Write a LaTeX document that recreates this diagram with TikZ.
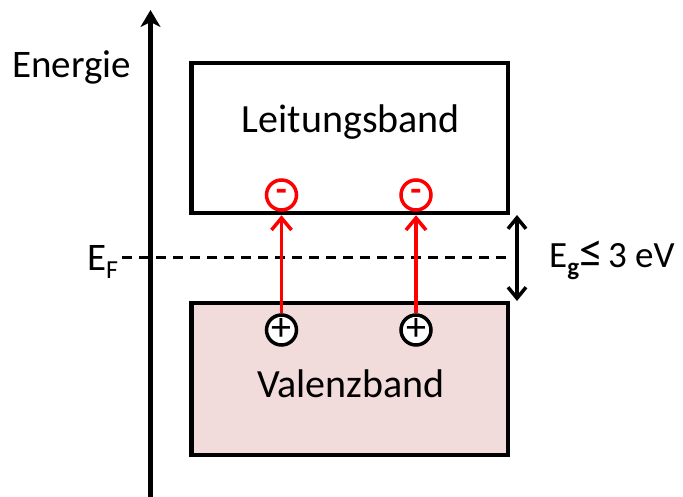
\documentclass[tikz,border=0pt]{standalone}
\usepackage{fontspec}
\setmainfont{Carlito}
\usetikzlibrary{arrows.meta}
\definecolor{vbfill}{HTML}{F2DCDB}
\definecolor{elred}{HTML}{FF0000}
\begin{document}
\begin{tikzpicture}[x=1pt,y=-1pt,
  band/.style={draw=black,line width=4.5pt,inner sep=0pt,minimum width=316.5pt},
  bigtext/.style={font=\fontsize{40}{44}\selectfont,inner sep=0pt,anchor=base},
  lbltext/.style={font=\fontsize{39}{44}\selectfont,inner sep=0pt,anchor=base west},
  minusc/.style={circle,draw=elred,line width=3.5pt,fill=white,minimum size=30pt,inner sep=0pt,text=elred,font=\fontsize{36}{36}\selectfont\bfseries},
  plusc/.style={circle,draw=black,line width=3.5pt,fill=white,minimum size=30pt,inner sep=0pt,font=\fontsize{40}{40}\selectfont},
  redarr/.style={draw=elred,line width=3.5pt,-{Straight Barb[length=12pt,width=20pt]}},
  dblarr/.style={draw=black,line width=3.5pt,{Straight Barb[length=11pt,width=18pt]}-{Straight Barb[length=11pt,width=18pt]}},
  axisarr/.style={draw=black,line width=4.5pt,-{Stealth[length=17pt,width=20pt,inset=5pt]}},
  fermi/.style={draw=black,line width=3pt,dash pattern=on 10pt off 7pt}
]
\useasboundingbox (0,0) rectangle (683,497);
% axis
\coordinate (axb) at (150.5,497);
\coordinate (axt) at (150.5,10);
% bands
\node[band,minimum height=150pt] (lb) at (349.75,138) {};
\node[band,fill=vbfill,minimum height=152pt] (vb) at (349.75,379) {};
\node[bigtext] (lbt) at (351,133) {Leitungsband};
\node[bigtext] (vbt) at (351,397) {Valenzband};
% Fermi level
\coordinate (efs) at (122,258);
\coordinate (efe) at (507,258);
\draw[fermi] (efs) -- (efe);
\draw[axisarr] (axb) -- (axt);
\node[lbltext] (energie) at (12,78) {Energie};
\node[lbltext] (ef) at (87,271) {E\raisebox{-8pt}{\fontsize{26}{26}\selectfont F}};
% gap
\coordinate (gt) at (517,215);
\coordinate (gb) at (517,301);
\draw[dblarr] (gt) -- (gb);
\node[lbltext,font=\fontsize{37}{44}\selectfont] (eg) at (549,268) {E\raisebox{-8pt}{\fontsize{25}{25}\selectfont\bfseries g}\scalebox{1.3}{≤}\kern5pt 3 eV};
% carriers
\node[minusc] (m1) at (281.5,195) {-};
\node[minusc] (m2) at (416,195) {-};
\node[plusc] (p1) at (281.5,330) {+};
\node[plusc] (p2) at (416,330) {+};
\draw[redarr] (p1) -- (p1 |- lb.south);
\draw[redarr] (p2) -- (p2 |- lb.south);
\end{tikzpicture}
\end{document}
